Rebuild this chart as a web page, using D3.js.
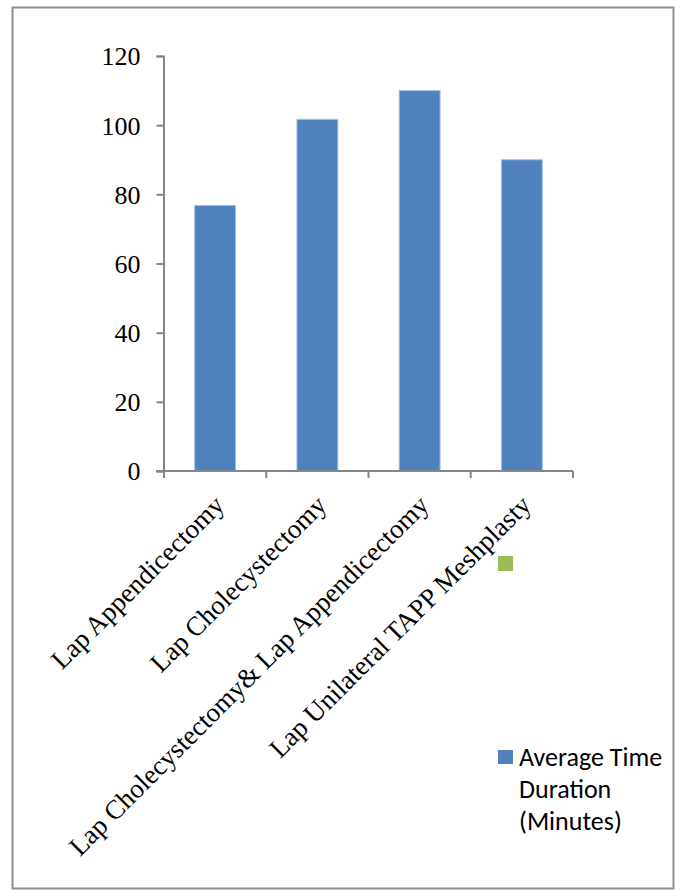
<!DOCTYPE html>
<html>
<head>
<meta charset="utf-8">
<script src="https://cdn.jsdelivr.net/npm/d3@7"></script>
<style>
  html, body { margin: 0; padding: 0; background: #fff; }
  svg { display: block; }
</style>
</head>
<body>
<div id="chart"></div>
<script>
const categories = [
  "Lap Appendicectomy",
  "Lap Cholecystectomy",
  "Lap Cholecystectomy& Lap Appendicectomy",
  "Lap Unilateral TAPP Meshplasty"
];
const seriesName = ["Average Time", "Duration", "(Minutes)"];
const values = [76.8, 101.7, 110, 90];
const yTicks = [0, 20, 40, 60, 80, 100, 120];

const W = 680, H = 896;
const svg = d3.select("#chart").append("svg").attr("width", W).attr("height", H);

svg.append("rect").attr("x", 0).attr("y", 0).attr("width", W).attr("height", H).attr("fill", "#fff");

// outer frame
svg.append("rect")
  .attr("x", 12.5).attr("y", 7.5).attr("width", 661).attr("height", 881)
  .attr("fill", "none").attr("stroke", "#8c8c8c").attr("stroke-width", 2);

const x = d3.scaleBand().domain(categories).range([164, 573]).paddingInner(0.6).paddingOuter(0.3);
const y = d3.scaleLinear().domain([0, 120]).range([471, 56]);

const serif = "'Liberation Serif', 'Times New Roman', serif";
const sans = "Carlito, Calibri, 'Open Sans', 'Noto Sans', sans-serif";

// bars
svg.append("g").selectAll("rect").data(values).join("rect")
  .attr("x", (d, i) => x(categories[i]))
  .attr("y", d => y(d))
  .attr("width", x.bandwidth())
  .attr("height", d => y(0) - y(d))
  .attr("fill", "#4f81bd")
  .attr("stroke", "#a9c1e0")
  .attr("stroke-width", 1);

// y axis
const yAxis = d3.axisLeft(y).tickValues(yTicks).tickSize(7).tickPadding(16).tickFormat(d3.format("d"));
const gy = svg.append("g").attr("transform", "translate(163.5,0)").call(yAxis);
gy.select(".domain").attr("stroke", "#868686").attr("stroke-width", 2);
gy.selectAll(".tick line").attr("stroke", "#868686").attr("stroke-width", 2);
gy.selectAll(".tick text").attr("font-family", serif).attr("font-size", 26).attr("fill", "#000").attr("dy", "0.34em");

// x axis line & ticks at band boundaries
const xBoundaries = [164, 573].concat(categories.slice(1).map(c => x(c) - x.step() * x.paddingInner() / 2));
const gx = svg.append("g");
gx.append("line").attr("x1", 156).attr("x2", 573).attr("y1", y(0)).attr("y2", y(0))
  .attr("stroke", "#868686").attr("stroke-width", 2);
gx.selectAll("line.tk").data(xBoundaries).join("line").attr("class", "tk")
  .attr("x1", d => d).attr("x2", d => d).attr("y1", y(0)).attr("y2", y(0) + 7)
  .attr("stroke", "#868686").attr("stroke-width", 2);

// rotated category labels
svg.append("g").selectAll("text").data(categories).join("text")
  .attr("transform", d => `translate(${x(d) + x.bandwidth() / 2 - 3},${y(0) + 22}) rotate(-45)`)
  .attr("text-anchor", "end")
  .attr("dy", "0.72em")
  .attr("font-family", serif)
  .attr("font-size", 27)
  .attr("fill", "#000")
  .text(d => d);

// legend
svg.append("rect").attr("x", 498).attr("y", 556).attr("width", 15).attr("height", 15).attr("fill", "#9bbb59");
svg.append("rect").attr("x", 498).attr("y", 750).attr("width", 15).attr("height", 14).attr("fill", "#4f81bd");
svg.append("g").selectAll("text").data(seriesName).join("text")
  .attr("x", 519)
  .attr("y", (d, i) => 766 + i * 32)
  .attr("font-family", sans)
  .attr("font-size", 26)
  .attr("fill", "#000")
  .text(d => d);
</script>
</body>
</html>
